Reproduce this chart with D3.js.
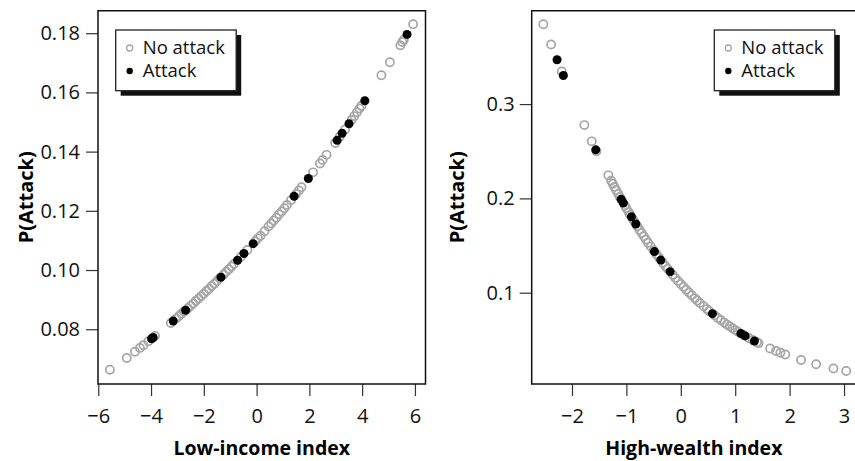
<!DOCTYPE html>
<html lang="en">
<head>
    <meta charset="UTF-8">
    <title>P(Attack) by neighbourhood index</title>
    <script type="text/javascript" src="https://d3js.org/d3.v7.min.js"></script>
    <style>
        body { margin: 0; background: #fff; }
        text { font-family: "Open Sans", "Noto Sans", sans-serif; }
    </style>
</head>
<body>
<svg class="panels"></svg>

<script type="text/javascript">

    const width = 855;
    const height = 461;

    // left panel: low-income index
    const lowNoX = [-5.56, -4.92, -4.61, -4.42, -4.29, -4.1, -3.85, -3.25, -3.05, -2.95, -2.85, -2.75,
        -2.6, -2.5, -2.4, -2.3, -2.2, -2.1, -2.0, -1.9, -1.8, -1.7, -1.6, -1.5, -1.4, -1.25, -1.15,
        -1.05, -0.95, -0.85, -0.6, -0.35, -0.05, 0.05, 0.15, 0.3, 0.45, 0.55, 0.65, 0.75, 0.85, 0.95,
        1.05, 1.15, 1.3, 1.5, 1.6, 1.7, 2.14, 2.4, 2.5, 2.65, 2.98, 3.15, 3.35, 3.6, 3.7, 3.8, 3.9,
        3.97, 4.73, 5.05, 5.45, 5.52, 5.58, 5.93];
    const lowNoP = [0.0663, 0.0703, 0.0724, 0.0737, 0.0746, 0.0759, 0.0777, 0.0821, 0.0836, 0.0844,
        0.0852, 0.0860, 0.0871, 0.0879, 0.0887, 0.0896, 0.0904, 0.0912, 0.0920, 0.0929, 0.0937, 0.0946,
        0.0954, 0.0963, 0.0972, 0.0985, 0.0994, 0.1003, 0.1012, 0.1021, 0.1044, 0.1068, 0.1097, 0.1107,
        0.1116, 0.1131, 0.1147, 0.1157, 0.1167, 0.1177, 0.1188, 0.1198, 0.1209, 0.1220, 0.1236, 0.1257,
        0.1269, 0.1280, 0.1330, 0.1360, 0.1372, 0.1389, 0.1429, 0.1450, 0.1475, 0.1507, 0.1520, 0.1533,
        0.1546, 0.1555, 0.1658, 0.1702, 0.1759, 0.1770, 0.1778, 0.1830];
    const lowYesX = [-3.98, -3.92, -3.16, -2.69, -1.35, -0.72, -0.48, -0.13, 1.42, 1.96, 3.05, 3.24, 3.5, 4.1, 5.7];
    const lowYesP = [0.0768, 0.0772, 0.0828, 0.0864, 0.0976, 0.1033, 0.1056, 0.1089, 0.1249, 0.1309,
        0.1438, 0.1462, 0.1494, 0.1572, 0.1796];

    // right panel: high-wealth index
    const highNoX = [-2.526, -2.384, -2.188, -1.772, -1.636, -1.55, -1.331, -1.28, -1.25, -1.22, -1.19,
        -1.15, -1.12, -1.08, -1.03, -1.0, -0.96, -0.93, -0.88, -0.85, -0.8, -0.76, -0.72, -0.68, -0.64,
        -0.6, -0.55, -0.5, -0.45, -0.4, -0.33, -0.28, -0.24, -0.15, -0.1, -0.05, 0.0, 0.05, 0.1, 0.15,
        0.2, 0.26, 0.3, 0.35, 0.42, 0.48, 0.52, 0.62, 0.68, 0.74, 0.8, 0.85, 0.9, 0.95, 1.0, 1.05, 1.15,
        1.25, 1.32, 1.4, 1.43, 1.642, 1.75, 1.83, 1.92, 2.211, 2.487, 2.806, 3.039];
    const highNoP = [0.3846, 0.3632, 0.3346, 0.2777, 0.2605, 0.2499, 0.2244, 0.2188, 0.2155, 0.2122,
        0.2090, 0.2048, 0.2016, 0.1975, 0.1924, 0.1895, 0.1855, 0.1826, 0.1779, 0.1751, 0.1705, 0.1668,
        0.1633, 0.1598, 0.1564, 0.1530, 0.1489, 0.1448, 0.1409, 0.1370, 0.1318, 0.1281, 0.1253, 0.1191,
        0.1157, 0.1125, 0.1093, 0.1062, 0.1032, 0.1002, 0.0974, 0.0940, 0.0918, 0.0892, 0.0856, 0.0826,
        0.0807, 0.0760, 0.0733, 0.0708, 0.0683, 0.0662, 0.0643, 0.0624, 0.0605, 0.0587, 0.0552, 0.0520,
        0.0498, 0.0474, 0.0465, 0.0408, 0.0382, 0.0363, 0.0344, 0.0287, 0.0241, 0.0197, 0.0170];
    const highYesX = [-2.274, -2.158, -1.563, -1.097, -1.055, -0.908, -0.827, -0.485, -0.368, -0.197,
        0.581, 1.103, 1.182, 1.353];
    const highYesP = [0.3470, 0.3303, 0.2515, 0.1992, 0.1950, 0.1805, 0.1729, 0.1436, 0.1346, 0.1223,
        0.0778, 0.0568, 0.0542, 0.0488];

    const lowXTicks = [-6, -4, -2, 0, 2, 4, 6];
    const lowYTicks = [0.08, 0.10, 0.12, 0.14, 0.16, 0.18];
    const highXTicks = [-2, -1, 0, 1, 2, 3];
    const highYTicks = [0.1, 0.2, 0.3];

    const legendLabels = ["No attack", "Attack"];
    const grey = "#a5a5a5";

    let svg = d3.select(".panels")
        .attr("width", width)
        .attr("height", height);

    const plotTop = 10.7, plotBottom = 384;

    drawPanel({
        left: 98, right: 425.5, xDomain: [-6.01, 6.40], yDomain: [0.0615, 0.1876],
        xTicks: lowXTicks, yTicks: lowYTicks, yFormat: d3.format(".2f"), yPad: 6,
        noX: lowNoX, noP: lowNoP, yesX: lowYesX, yesP: lowYesP,
        xTitle: "Low-income index", titleX: 26, legendX: 115.7, fullBox: true
    });

    drawPanel({
        left: 531.7, right: 856, xDomain: [-2.74, 3.22], yDomain: [0.0032, 0.399],
        xTicks: highXTicks, yTicks: highYTicks, yFormat: d3.format(".1f"), yPad: 5,
        noX: highNoX, noP: highNoP, yesX: highYesX, yesP: highYesP,
        xTitle: "High-wealth index", titleX: 456.7, legendX: 714.3, fullBox: false
    });

    function drawPanel(p) {
        let g = svg.append("g");

        let x = d3.scaleLinear().domain(p.xDomain).range([p.left, p.right]);
        let y = d3.scaleLinear().domain(p.yDomain).range([plotBottom, plotTop]);

        let minus = d => (d < 0 ? "\u2212" + Math.abs(d) : "" + d);

        let xAxis = g.append("g")
            .attr("transform", "translate(0," + plotBottom + ")")
            .call(d3.axisBottom(x).tickValues(p.xTicks).tickSize(12).tickPadding(13).tickFormat(minus));
        let yAxis = g.append("g")
            .attr("transform", "translate(" + p.left + ",0)")
            .call(d3.axisLeft(y).tickValues(p.yTicks).tickSize(12).tickPadding(p.yPad).tickFormat(p.yFormat));

        [xAxis, yAxis].forEach(a => {
            a.select(".domain").remove();
            a.selectAll(".tick line").attr("stroke", "#333").attr("stroke-width", 1.2);
            a.selectAll(".tick text").attr("fill", "#111")
                .style("font-size", "20px");
        });

        // plot frame
        let frame = d3.path();
        if (p.fullBox) {
            frame.rect(p.left, plotTop, p.right - p.left, plotBottom - plotTop);
        } else {
            frame.moveTo(p.right, plotTop);
            frame.lineTo(p.left, plotTop);
            frame.lineTo(p.left, plotBottom);
            frame.lineTo(p.right, plotBottom);
        }
        g.append("path").attr("d", frame.toString())
            .attr("fill", "none").attr("stroke", "#111").attr("stroke-width", 1.5);

        // points: no attack first, attacks drawn on top
        g.append("g").selectAll("circle").data(p.noX).enter().append("circle")
            .attr("cx", d => x(d))
            .attr("cy", (d, i) => y(p.noP[i]))
            .attr("r", 4.1)
            .attr("fill", "none")
            .attr("stroke", grey)
            .attr("stroke-width", 1.7);

        g.append("g").selectAll("circle").data(p.yesX).enter().append("circle")
            .attr("cx", d => x(d))
            .attr("cy", (d, i) => y(p.yesP[i]))
            .attr("r", 4.5)
            .attr("fill", "#000");

        // axis titles
        g.append("text")
            .attr("x", (p.left + p.right) / 2)
            .attr("y", 455)
            .attr("text-anchor", "middle")
            .style("font-size", "19.5px")
            .style("font-weight", "bold")
            .text(p.xTitle);

        g.append("text")
            .attr("transform", "translate(" + p.titleX + "," + ((plotTop + plotBottom) / 2) + ") rotate(-90)")
            .attr("dy", "0.35em")
            .attr("text-anchor", "middle")
            .style("font-size", "20px")
            .style("font-weight", "bold")
            .text("P(Attack)");

        drawLegend(g, p.legendX, 30);
    }

    function drawLegend(g, lx, ly) {
        let w = 120.5, h = 60.7;
        let leg = g.append("g").attr("transform", "translate(" + lx + "," + ly + ")");

        leg.append("rect")
            .attr("x", 5).attr("y", 5)
            .attr("width", w).attr("height", h)
            .attr("fill", "#111");
        leg.append("rect")
            .attr("width", w).attr("height", h)
            .attr("fill", "#fff")
            .attr("stroke", "#222")
            .attr("stroke-width", 1.3);

        let rows = leg.selectAll(".row").data(legendLabels).enter().append("g")
            .attr("class", "row")
            .attr("transform", (d, i) => "translate(0," + (18 + i * 23) + ")");

        rows.append("circle")
            .attr("cx", 14)
            .attr("r", (d, i) => i === 0 ? 3 : 3.2)
            .attr("fill", (d, i) => i === 0 ? "none" : "#000")
            .attr("stroke", (d, i) => i === 0 ? grey : "none")
            .attr("stroke-width", 1.3);

        rows.append("text")
            .attr("x", 27)
            .attr("dy", "0.35em")
            .attr("fill", "#111")
            .style("font-size", "18.5px")
            .text(d => d);
    }

</script>

</body>
</html>
